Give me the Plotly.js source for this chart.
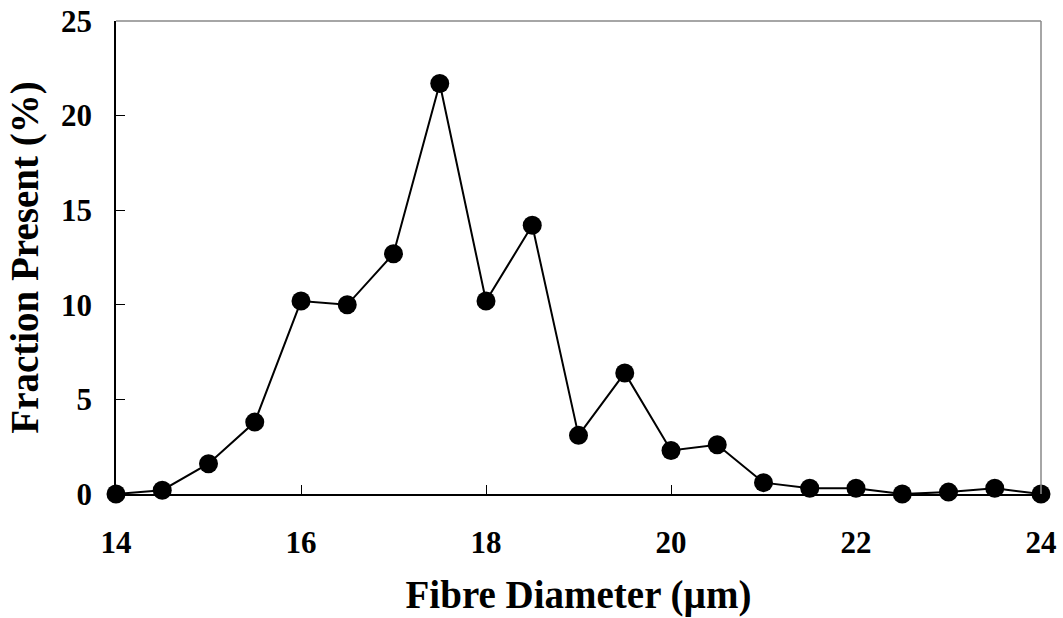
<!DOCTYPE html>
<html><head><meta charset="utf-8">
<script src="https://cdn.plot.ly/plotly-3.0.1.min.js"></script>
<style>body{margin:0;background:#fff}#c{width:1063px;height:618px}</style>
</head><body><div id="c"></div>
<script>
const diameter = [14,14.5,15,15.5,16,16.5,17,17.5,18,18.5,19,19.5,20,20.5,21,21.5,22,22.5,23,23.5,24];
const fraction = [0,0.2,1.6,3.8,10.2,10.0,12.7,21.7,10.2,14.2,3.1,6.4,2.3,2.6,0.6,0.3,0.3,0,0.1,0.3,0];
const xTicks = [14,16,18,20,22,24];
const yTicks = [0,5,10,15,20,25];
const font = {family:'"Liberation Serif","Times New Roman",serif', color:'#000'};
Plotly.newPlot('c',[{
  x: diameter, y: fraction, mode:'lines+markers', type:'scatter',
  line:{color:'#000', width:2}, marker:{color:'#000', size:19},
  cliponaxis:false
}],{
  width:1063, height:618, showlegend:false,
  margin:{l:116,r:22,t:21,b:124},
  paper_bgcolor:'#fff', plot_bgcolor:'#fff',
  xaxis:{range:[14,24], tickvals:xTicks, ticktext:xTicks.map(String), ticks:'inside', ticklen:9, tickcolor:'#000',
    showline:true, linecolor:'#000', linewidth:1.5, mirror:false, showgrid:false, zeroline:false,
    tickfont:Object.assign({size:31, weight:'bold'},font), ticklabelstandoff:20,
    title:{text:'<b>Fibre Diameter (µm)</b>', font:Object.assign({size:39},font), standoff:22}},
  yaxis:{range:[0,25], tickvals:yTicks, ticktext:yTicks.map(String), ticks:'inside', ticklen:9, tickcolor:'#000',
    showline:true, linecolor:'#000', linewidth:1.5, showgrid:false, zeroline:false,
    tickfont:Object.assign({size:31, weight:'bold'},font), ticklabelstandoff:16,
    title:{text:'<b>Fraction Present (%)</b>', font:Object.assign({size:39},font), standoff:10}},
  shapes:[
    {type:'line', xref:'paper', yref:'paper', x0:0, x1:1, y0:1, y1:1, line:{color:'#888', width:1.5}},
    {type:'line', xref:'paper', yref:'paper', x0:1, x1:1, y0:0, y1:1, line:{color:'#888', width:1.5}}
  ]
},{displayModeBar:false});
</script></body></html>
